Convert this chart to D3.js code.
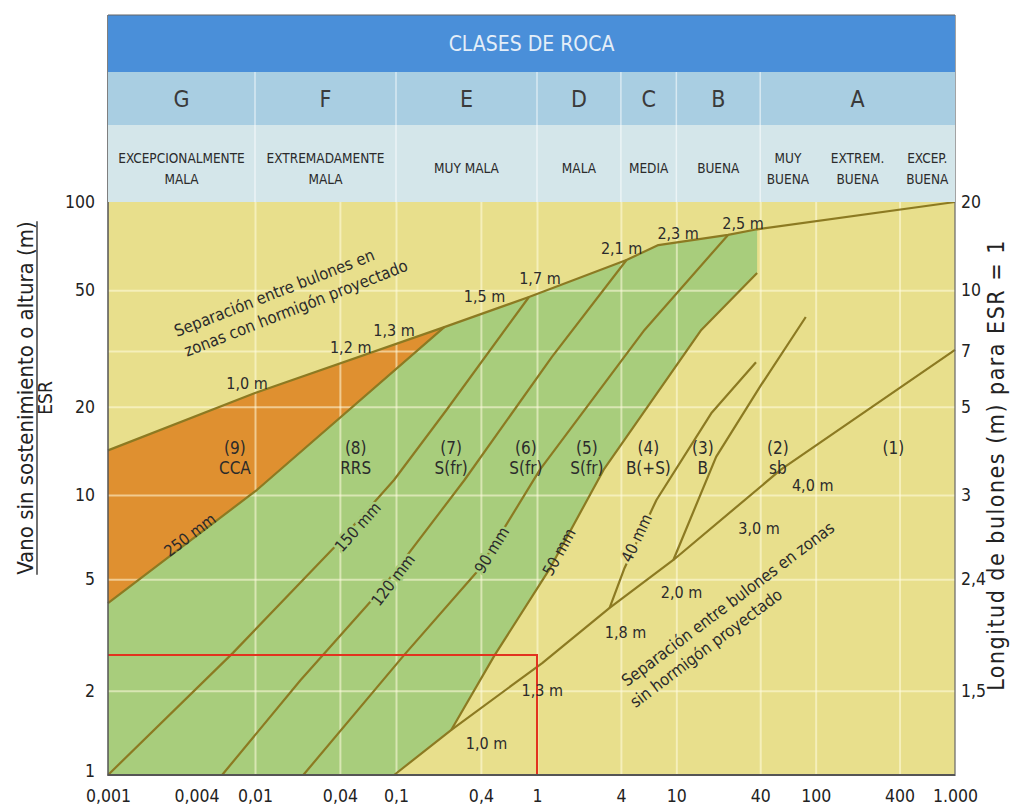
<!DOCTYPE html>
<html><head><meta charset="utf-8">
<script src="https://cdn.jsdelivr.net/npm/d3@7"></script>
<style>
body{margin:0;background:#fff}
svg text{font-family:"Liberation Sans Narrow","Arial Narrow","DejaVu Sans Condensed","Liberation Sans",sans-serif;}
</style>
</head><body>
<svg id="chart" width="1011" height="808"></svg>
<script>
// ---------------- DATA ----------------
const qTicks = [0.001,0.004,0.01,0.04,0.1,0.4,1,4,10,40,100,400,1000];
const qTickLabels = ["0,001","0,004","0,01","0,04","0,1","0,4","1","4","10","40","100","400","1.000"];
const qGrid = [0.01,0.04,0.1,0.4,1,4,10,40,100,400];
const spanTicks = [1,2,5,10,20,50,100];
const spanGrid = [2,5,10,20,31,50];
const boltTickSpans = [100,50,31,20,10,5,2];
const boltTickLabels = ["20","10","7","5","3","2,4","1,5"];

const classLetters = ["G","F","E","D","C","B","A"];
const classBounds = [0.001,0.01,0.1,1,4,10,40,1000];
const qualityNames = [["EXCEPCIONALMENTE","MALA"],["EXTREMADAMENTE","MALA"],["MUY MALA"],["MALA"],["MEDIA"],["BUENA"],["MUY","BUENA"],["EXTREM.","BUENA"],["EXCEP.","BUENA"]];
const qualityBounds = [0.001,0.01,0.1,1,4,10,40,100,400,1000];

// bolt spacing curve, zones with shotcrete (upper)
const upperQ    = [0.001,0.01,0.22,0.877,4.39,7.43,23.5,38,1000];
const upperSpan = [14.2,22.3,37.4,47.4,63.4,71.3,77.2,80.7,100];
// bolt spacing curve, zones without shotcrete (lower)
const lowerQ    = [0.097,0.247,1.09,3.32,9.52,56.2,1000];
const lowerSpan = [1,1.45,2.51,3.95,5.86,12.2,31.3];
// shotcrete thickness lines
const t250Q = [0.001,0.0103,0.22];              const t250Span = [4.11,10.4,37.4];
const t150Q = [0.001,0.00708,0.0361,0.0968,0.228,0.877]; const t150Span = [1,2.73,6.47,11.25,19.5,47.4];
const t120Q = [0.00597,0.021,0.0781,0.306,1.28,4.39];    const t120Span = [1,2.18,4.58,11.25,29.6,63.4];
const t90Q  = [0.022,0.114,0.385,1.05,5.91,23.5];        const t90Span  = [1,2.68,5.4,12.2,36.6,77.2];
const t50Q  = [0.247,0.501,1.22,3.01,15.1,38];           const t50Span  = [1.45,2.68,5.4,12.2,36.6,57.2];
const t40Q  = [3.32,4.25,7.2,17.8,37.3];                 const t40Span  = [3.95,5.49,9.6,19.0,28.4];
const b3Q   = [9.52,19.3,40.5,84.9];                     const b3Span   = [5.86,13.5,23.7,40.5];

// example reading (red)
const exampleQ = 1, exampleSpan = 2.68;

// labels
const upperLabels = ["1,0 m","1,2 m","1,3 m","1,5 m","1,7 m","2,1 m","2,3 m","2,5 m"];
const upperLabelQ = [0.00882,0.0477,0.0968,0.425,1.05,4.05,10.3,30.1];
const upperLabelSpan = [24.1,31.8,36.6,47.8,55.0,69.7,78.4,84.8];
const lowerLabels = ["1,0 m","1,3 m","1,8 m","2,0 m","3,0 m","4,0 m"];
const lowerLabelQ = [0.439,1.09,4.32,10.9,39.2,95.2];
const lowerLabelSpan = [1.30,2.01,3.24,4.5,7.62,10.8];
const regionLabels = [["(9)","CCA"],["(8)","RRS"],["(7)","S(fr)"],["(6)","S(fr)"],["(5)","S(fr)"],["(4)","B(+S)"],["(3)","B"],["(2)","sb"],["(1)",""]];
const regionQ = [0.0073,0.0518,0.246,0.834,2.28,6.3,15.5,53.5,361];
const regionSpan = [14.5,14.5,14.5,14.5,14.5,14.5,14.5,14.5,14.5];
const thickLabels = ["250 mm","150 mm","120 mm","90 mm","50 mm","40 mm"];
const thickLabelQ = [0.00361,0.0535,0.0952,0.477,1.44,5.18];
const thickLabelSpan = [7.2,7.69,4.97,6.36,6.26,7.02];
const noteUpper = ["Separación entre bulones en","zonas con hormigón proyectado"];
const noteUpperQ = 0.00295, noteUpperSpan = 34.6;
const noteLower = ["Separación entre bulones en zonas","sin hormigón proyectado"];
const noteLowerQ = 4.43, noteLowerSpan = 2.06;

// ---------------- CHART ----------------
const svg = d3.select("#chart");
const L = 108, R = 955, T = 202, B = 775, HT = 15;
const x = d3.scaleLog().domain([0.001,0.01,1,1000]).range([L,255,537,R]);
const y = d3.scaleLog().domain([1,10,100]).range([B,495,T]);

const C = {yellow:"#e8df8c", green:"#a8cd7c", orange:"#df9030", line:"#8c7a22", red:"#e2331f",
           blue:"#4a8fd9", row2:"#a9cee2", row3:"#d4e6ea", text:"#2b2b2b"};

const zip = (a,b) => a.map((v,i)=>[v,b[i]]);
const upper = zip(upperQ,upperSpan), lower = zip(lowerQ,lowerSpan);
const t250 = zip(t250Q,t250Span), t150 = zip(t150Q,t150Span), t120 = zip(t120Q,t120Span),
      t90 = zip(t90Q,t90Span), t50 = zip(t50Q,t50Span), t40 = zip(t40Q,t40Span), b3 = zip(b3Q,b3Span);
const line = d3.line().x(d=>x(d[0])).y(d=>y(d[1]));

// background
svg.append("rect").attr("x",L).attr("y",T).attr("width",R-L).attr("height",B-T).attr("fill",C.yellow);

// green region
const greenPoly = [...t250, ...upper.slice(3,8), ...t50.slice().reverse(), [lower[0][0],lower[0][1]], [0.001,1]];
svg.append("path").attr("d", line(greenPoly)+"Z").attr("fill",C.green);
// orange region
const orangePoly = [...upper.slice(0,3), ...t250.slice(0,2).reverse()];
svg.append("path").attr("d", line(orangePoly)+"Z").attr("fill",C.orange);

// grid
const gridG = svg.append("g").attr("class","grid");
gridG.append("g").attr("transform",`translate(0,${B})`)
  .call(d3.axisBottom(x).tickValues(qGrid).tickSize(-(B-T)).tickFormat(""))
  .call(g=>g.select(".domain").remove());
gridG.append("g").attr("transform",`translate(${L},0)`)
  .call(d3.axisLeft(y).tickValues(spanGrid).tickSize(-(R-L)).tickFormat(""))
  .call(g=>g.select(".domain").remove());
gridG.selectAll("line").attr("stroke","#fffbe0").attr("stroke-opacity",0.55).attr("stroke-width",2);

// lines
[upper, lower, t250, t150, t120, t90, t50, t40, b3].forEach(pts=>{
  svg.append("path").attr("d",line(pts)).attr("fill","none").attr("stroke",C.line)
     .attr("stroke-width",2.2).attr("stroke-linejoin","round");
});

// red example
svg.append("path").attr("d", line([[0.001,exampleSpan],[exampleQ,exampleSpan],[exampleQ,1]]))
   .attr("fill","none").attr("stroke",C.red).attr("stroke-width",2);

// frame
svg.append("line").attr("x1",L).attr("x2",L).attr("y1",HT).attr("y2",B+1).attr("stroke","#555").attr("stroke-width",1.5);
svg.append("line").attr("x1",R).attr("x2",R).attr("y1",HT).attr("y2",B+1).attr("stroke","#666").attr("stroke-width",1.2);
svg.append("line").attr("x1",L).attr("x2",R).attr("y1",B).attr("y2",B).attr("stroke","#555").attr("stroke-width",2.2);

// header
svg.append("rect").attr("x",L).attr("y",HT).attr("width",R-L).attr("height",57).attr("fill",C.blue);
svg.append("rect").attr("x",L).attr("y",72).attr("width",R-L).attr("height",53).attr("fill",C.row2);
svg.append("rect").attr("x",L).attr("y",125).attr("width",R-L).attr("height",T-125).attr("fill",C.row3);
svg.append("line").attr("x1",L).attr("x2",R).attr("y1",HT).attr("y2",HT).attr("stroke","#666").attr("stroke-width",1.2);
svg.append("text").attr("x",(L+R)/2).attr("y",51).attr("text-anchor","middle")
   .attr("font-size",21).attr("fill","#e4eef8").text("CLASES DE ROCA");
classBounds.slice(1,-1).forEach(b=>{
  svg.append("line").attr("x1",x(b)).attr("x2",x(b)).attr("y1",72).attr("y2",T)
     .attr("stroke","#ffffff").attr("stroke-opacity",0.55).attr("stroke-width",1.5);
});
classLetters.forEach((c,i)=>{
  const cx = x(Math.sqrt(classBounds[i]*classBounds[i+1]));
  svg.append("text").attr("x",cx).attr("y",107).attr("text-anchor","middle")
     .attr("font-size",23).attr("fill","#3a3a3a").text(c);
});
qualityNames.forEach((n,i)=>{
  const cx = x(Math.sqrt(qualityBounds[i]*qualityBounds[i+1]));
  const t = svg.append("text").attr("x",cx).attr("text-anchor","middle").attr("font-size",13.5).attr("fill",C.text);
  if(n.length===1){ t.attr("y",173).text(n[0]); }
  else { n.forEach((s,j)=>t.append("tspan").attr("x",cx).attr("y",163+j*21).text(s)); }
});

// axes
const axL = svg.append("g").attr("transform",`translate(${L},0)`)
  .call(d3.axisLeft(y).tickValues(spanTicks).tickSize(0).tickPadding(13).tickFormat(d3.format("d")));
const axB = svg.append("g").attr("transform",`translate(0,${B})`)
  .call(d3.axisBottom(x).tickValues(qTicks).tickSize(0).tickPadding(15).tickFormat((d,i)=>qTickLabels[i]));
const axR = svg.append("g").attr("transform",`translate(${R},0)`)
  .call(d3.axisRight(y).tickValues(boltTickSpans).tickSize(0).tickPadding(6).tickFormat((d,i)=>boltTickLabels[i]));
[axL,axB,axR].forEach(a=>{a.select(".domain").remove();
  a.selectAll("text").attr("font-size",17.5).attr("fill","#222")
   .style("font-family",'"Liberation Sans Narrow","Arial Narrow","DejaVu Sans Condensed",sans-serif');});
axL.selectAll(".tick").filter(d=>d===1).select("text").attr("dy","0.1em");

// axis titles
const lt = svg.append("text").attr("transform",`translate(33,${398}) rotate(-90)`).attr("text-anchor","middle")
   .attr("font-size",22).attr("fill","#222").text("Vano sin sostenimiento o altura (m)");
const ltLen = lt.node().getComputedTextLength();
svg.append("line").attr("x1",37).attr("x2",37).attr("y1",398-ltLen/2).attr("y2",398+ltLen/2).attr("stroke","#222").attr("stroke-width",1.3);
svg.append("text").attr("transform",`translate(52,${398}) rotate(-90)`).attr("text-anchor","middle")
   .attr("font-size",19).attr("fill","#222").text("ESR");
svg.append("text").attr("transform",`translate(1004,${465}) rotate(-90)`).attr("text-anchor","middle")
   .attr("font-size",23).attr("letter-spacing",1.5).attr("fill","#222").text("Longitud de bulones (m) para ESR = 1");

// helpers
function angleOn(pts, q){
  const P = pts.map(d=>[x(d[0]),y(d[1])]); const px = x(q);
  let i = 0; while(i < P.length-2 && P[i+1][0] < px) i++;
  return Math.atan2(P[i+1][1]-P[i][1], P[i+1][0]-P[i][0])*180/Math.PI;
}

// spacing labels
upperLabels.forEach((s,i)=>svg.append("text").attr("x",x(upperLabelQ[i])).attr("y",y(upperLabelSpan[i]))
   .attr("dy","0.35em").attr("text-anchor","middle").attr("font-size",16).attr("fill",C.text).text(s));
lowerLabels.forEach((s,i)=>svg.append("text").attr("x",x(lowerLabelQ[i])).attr("y",y(lowerLabelSpan[i]))
   .attr("dy","0.35em").attr("text-anchor","middle").attr("font-size",16).attr("fill",C.text).text(s));
// region labels
regionLabels.forEach((n,i)=>{
  const cx = x(regionQ[i]), cy = y(regionSpan[i]);
  const t = svg.append("text").attr("text-anchor","middle").attr("font-size",17).attr("fill",C.text);
  n.forEach((s,j)=>{ if(s) t.append("tspan").attr("x",cx).attr("y",cy+j*20).attr("dy","0.35em").text(s); });
});
// thickness labels (line is interrupted under the text)
const thickLines = [t250,t150,t120,t90,t50,t40];
const thickHalo = ["none",C.green,C.green,C.green,"none",C.yellow];
thickLabels.forEach((s,i)=>{
  const cx = x(thickLabelQ[i]), cy = y(thickLabelSpan[i]);
  const a = angleOn(thickLines[i], thickLabelQ[i]);
  svg.append("text").attr("transform",`translate(${cx},${cy}) rotate(${a})`).attr("text-anchor","middle")
    .attr("dy","0.35em").attr("font-size",16).attr("fill",C.text)
    .attr("stroke",thickHalo[i]).attr("stroke-width",5).attr("paint-order","stroke").attr("stroke-linejoin","round")
    .text(s);
});
// notes
function note(lines, q, s, ref, dx2){
  const a = angleOn(ref, q);
  const t = svg.append("text").attr("transform",`translate(${x(q)},${y(s)}) rotate(${a})`)
     .attr("font-size",16.5).attr("fill",C.text);
  lines.forEach((l,j)=>t.append("tspan").attr("x",j?dx2:0).attr("y",j*22).text(l));
}
note(noteUpper, noteUpperQ, noteUpperSpan, upper, 2);
note(noteLower, noteLowerQ, noteLowerSpan, lower, -6);
</script>
</body></html>
